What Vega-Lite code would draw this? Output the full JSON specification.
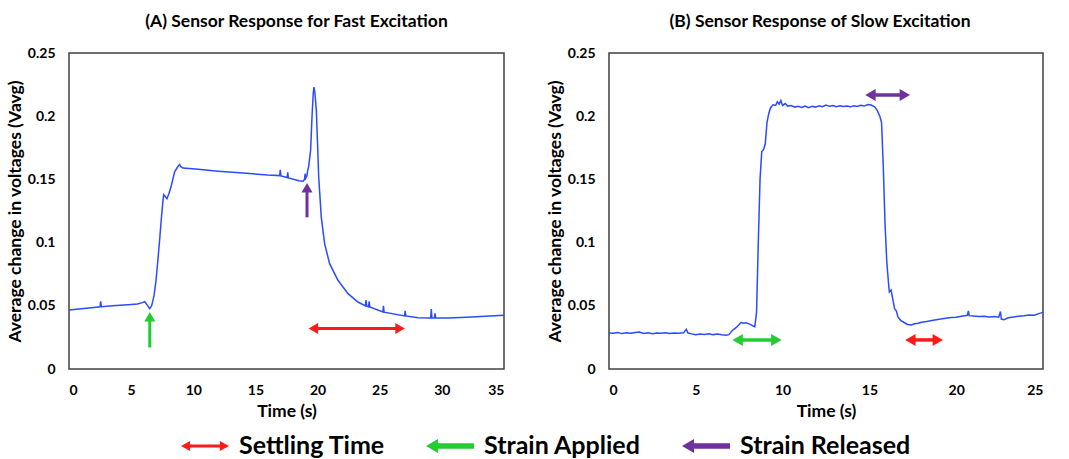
{
  "$schema": "https://vega.github.io/schema/vega-lite/v6.json",
  "background": "white",
  "padding": {"left": 5, "top": 11, "right": 5, "bottom": 0},
  "config": {
    "font": "Lato",
    "view": {"stroke": "#404040", "strokeWidth": 1.5},
    "axis": {"domain": false, "ticks": false, "grid": false, "labelFont": "Lato", "labelFontSize": 14, "labelFontWeight": "bold", "labelColor": "#000", "titleFont": "Lato", "titleFontSize": 17.5, "titleFontWeight": "bold", "titleColor": "#000", "labelPadding": 14},
    "title": {"font": "Lato", "fontSize": 17.5, "fontWeight": "bold", "color": "#000", "offset": 16}
  },
  "datasets": {
    "fast": [
      {"t": 0, "v": 0.0467}, {"t": 1, "v": 0.0477}, {"t": 2, "v": 0.0487}, {"t": 2.5, "v": 0.0492}, {"t": 2.55, "v": 0.0535}, {"t": 2.6, "v": 0.0493},
      {"t": 3.5, "v": 0.05}, {"t": 4.75, "v": 0.0509}, {"t": 5.5, "v": 0.0515}, {"t": 5.9, "v": 0.0525}, {"t": 6.1, "v": 0.0532}, {"t": 6.3, "v": 0.0505},
      {"t": 6.49, "v": 0.0477}, {"t": 6.65, "v": 0.05}, {"t": 6.84, "v": 0.058}, {"t": 7.0, "v": 0.07}, {"t": 7.16, "v": 0.087}, {"t": 7.3, "v": 0.103},
      {"t": 7.43, "v": 0.119}, {"t": 7.55, "v": 0.132}, {"t": 7.62, "v": 0.138}, {"t": 7.75, "v": 0.1365}, {"t": 7.88, "v": 0.1347}, {"t": 8.05, "v": 0.139},
      {"t": 8.23, "v": 0.145}, {"t": 8.5, "v": 0.156}, {"t": 8.75, "v": 0.16}, {"t": 8.9, "v": 0.1617}, {"t": 9.0, "v": 0.16}, {"t": 9.17, "v": 0.159},
      {"t": 10.4, "v": 0.158}, {"t": 12, "v": 0.1565}, {"t": 14, "v": 0.155}, {"t": 16, "v": 0.1535}, {"t": 16.95, "v": 0.153}, {"t": 17.0, "v": 0.1575},
      {"t": 17.05, "v": 0.1528}, {"t": 17.55, "v": 0.1515}, {"t": 17.6, "v": 0.1555}, {"t": 17.65, "v": 0.1512}, {"t": 18.5, "v": 0.149}, {"t": 18.83, "v": 0.1485},
      {"t": 18.95, "v": 0.15}, {"t": 19.0, "v": 0.1545}, {"t": 19.05, "v": 0.151}, {"t": 19.15, "v": 0.153}, {"t": 19.2, "v": 0.157}, {"t": 19.28, "v": 0.16},
      {"t": 19.44, "v": 0.173}, {"t": 19.55, "v": 0.199}, {"t": 19.65, "v": 0.218}, {"t": 19.71, "v": 0.2231}, {"t": 19.78, "v": 0.219}, {"t": 19.9, "v": 0.2046},
      {"t": 20.0, "v": 0.178}, {"t": 20.09, "v": 0.152}, {"t": 20.3, "v": 0.12}, {"t": 20.57, "v": 0.099}, {"t": 20.97, "v": 0.0833}, {"t": 21.64, "v": 0.0702},
      {"t": 22.45, "v": 0.0596}, {"t": 23.25, "v": 0.053}, {"t": 23.85, "v": 0.05}, {"t": 23.9, "v": 0.0545}, {"t": 23.95, "v": 0.0498}, {"t": 24.1, "v": 0.0492},
      {"t": 24.15, "v": 0.0535}, {"t": 24.2, "v": 0.049}, {"t": 25.26, "v": 0.0451}, {"t": 25.3, "v": 0.05}, {"t": 25.35, "v": 0.045}, {"t": 27.0, "v": 0.042},
      {"t": 27.05, "v": 0.046}, {"t": 27.1, "v": 0.042}, {"t": 28.08, "v": 0.0406}, {"t": 29.1, "v": 0.0403}, {"t": 29.15, "v": 0.0475}, {"t": 29.2, "v": 0.0403},
      {"t": 29.4, "v": 0.0404}, {"t": 29.45, "v": 0.044}, {"t": 29.5, "v": 0.0404}, {"t": 30.5, "v": 0.0404}, {"t": 32, "v": 0.041}, {"t": 33.5, "v": 0.0418}, {"t": 35, "v": 0.0425}
    ],
    "slow": [
      {"t": 0, "v": 0.0285}, {"t": 0.25, "v": 0.0282}, {"t": 0.5, "v": 0.0288}, {"t": 0.75, "v": 0.028}, {"t": 1.0, "v": 0.0286}, {"t": 1.25, "v": 0.0283},
      {"t": 1.5, "v": 0.0289}, {"t": 1.75, "v": 0.0292}, {"t": 2.0, "v": 0.0281}, {"t": 2.25, "v": 0.0286}, {"t": 2.5, "v": 0.0279}, {"t": 2.75, "v": 0.0284},
      {"t": 3.0, "v": 0.0282}, {"t": 3.25, "v": 0.0287}, {"t": 3.5, "v": 0.028}, {"t": 3.75, "v": 0.0285}, {"t": 4.0, "v": 0.0283}, {"t": 4.3, "v": 0.0286},
      {"t": 4.45, "v": 0.0315}, {"t": 4.55, "v": 0.0284}, {"t": 4.75, "v": 0.0278}, {"t": 5.0, "v": 0.0271}, {"t": 5.25, "v": 0.0276}, {"t": 5.5, "v": 0.0273},
      {"t": 5.75, "v": 0.0278}, {"t": 6.0, "v": 0.0272}, {"t": 6.25, "v": 0.0276}, {"t": 6.5, "v": 0.0271}, {"t": 6.75, "v": 0.0268}, {"t": 6.9, "v": 0.0272},
      {"t": 7.1, "v": 0.0305}, {"t": 7.3, "v": 0.0325}, {"t": 7.5, "v": 0.0352}, {"t": 7.6, "v": 0.0368}, {"t": 7.75, "v": 0.0362}, {"t": 7.9, "v": 0.0365},
      {"t": 8.1, "v": 0.0355}, {"t": 8.3, "v": 0.034}, {"t": 8.4, "v": 0.0335}, {"t": 8.5, "v": 0.045}, {"t": 8.6, "v": 0.1}, {"t": 8.7, "v": 0.15},
      {"t": 8.8, "v": 0.172}, {"t": 8.9, "v": 0.1735}, {"t": 9.0, "v": 0.178}, {"t": 9.1, "v": 0.195}, {"t": 9.2, "v": 0.202}, {"t": 9.3, "v": 0.2065},
      {"t": 9.45, "v": 0.209}, {"t": 9.6, "v": 0.2085}, {"t": 9.7, "v": 0.2115}, {"t": 9.8, "v": 0.2095}, {"t": 9.9, "v": 0.2125}, {"t": 10.0, "v": 0.2085},
      {"t": 10.15, "v": 0.21}, {"t": 10.3, "v": 0.208}, {"t": 10.5, "v": 0.2085}, {"t": 10.7, "v": 0.2072}, {"t": 10.9, "v": 0.2078}, {"t": 11.1, "v": 0.207},
      {"t": 11.3, "v": 0.208}, {"t": 11.5, "v": 0.2068}, {"t": 11.7, "v": 0.2078}, {"t": 11.9, "v": 0.2072}, {"t": 12.1, "v": 0.2082}, {"t": 12.3, "v": 0.2075},
      {"t": 12.5, "v": 0.2088}, {"t": 12.7, "v": 0.2078}, {"t": 12.9, "v": 0.2085}, {"t": 13.1, "v": 0.2075}, {"t": 13.3, "v": 0.2082}, {"t": 13.5, "v": 0.2076},
      {"t": 13.7, "v": 0.208}, {"t": 13.9, "v": 0.2074}, {"t": 14.1, "v": 0.2082}, {"t": 14.3, "v": 0.2077}, {"t": 14.5, "v": 0.2086}, {"t": 14.7, "v": 0.208},
      {"t": 14.9, "v": 0.2092}, {"t": 15.1, "v": 0.2088}, {"t": 15.3, "v": 0.2075}, {"t": 15.45, "v": 0.2046}, {"t": 15.6, "v": 0.2}, {"t": 15.7, "v": 0.195},
      {"t": 15.8, "v": 0.16}, {"t": 15.9, "v": 0.115}, {"t": 16.0, "v": 0.085}, {"t": 16.1, "v": 0.068}, {"t": 16.15, "v": 0.061}, {"t": 16.25, "v": 0.0625},
      {"t": 16.35, "v": 0.055}, {"t": 16.45, "v": 0.0477}, {"t": 16.55, "v": 0.046}, {"t": 16.65, "v": 0.041}, {"t": 16.8, "v": 0.0385}, {"t": 17.0, "v": 0.0368},
      {"t": 17.2, "v": 0.0352}, {"t": 17.4, "v": 0.0348}, {"t": 17.6, "v": 0.0358}, {"t": 17.8, "v": 0.0362}, {"t": 18.0, "v": 0.037}, {"t": 18.3, "v": 0.0375},
      {"t": 18.6, "v": 0.0383}, {"t": 18.85, "v": 0.039}, {"t": 19.1, "v": 0.0395}, {"t": 19.4, "v": 0.0402}, {"t": 19.7, "v": 0.0408}, {"t": 20.0, "v": 0.041},
      {"t": 20.3, "v": 0.0418}, {"t": 20.65, "v": 0.0425}, {"t": 20.7, "v": 0.046}, {"t": 20.75, "v": 0.0422}, {"t": 21.0, "v": 0.042}, {"t": 21.3, "v": 0.0415},
      {"t": 21.6, "v": 0.0418}, {"t": 21.9, "v": 0.0412}, {"t": 22.2, "v": 0.0415}, {"t": 22.45, "v": 0.041}, {"t": 22.55, "v": 0.0455}, {"t": 22.6, "v": 0.0395},
      {"t": 22.75, "v": 0.039}, {"t": 23.0, "v": 0.0405}, {"t": 23.3, "v": 0.0412}, {"t": 23.6, "v": 0.0418}, {"t": 23.9, "v": 0.0422}, {"t": 24.2, "v": 0.0428},
      {"t": 24.5, "v": 0.0425}, {"t": 24.75, "v": 0.0438}, {"t": 25, "v": 0.0448}
    ],
    "shaftsA": [
      {"type": "Strain Applied", "x": 6.5, "x2": 6.5, "y": 0.017, "y2": 0.041},
      {"type": "Strain Released", "x": 19.15, "x2": 19.15, "y": 0.12, "y2": 0.1434},
      {"type": "Settling Time", "x": 19.66, "x2": 26.64, "y": 0.032, "y2": 0.032}
    ],
    "headsA": [
      {"type": "Strain Applied", "dir": "up", "x": 6.5, "y": 0.0413},
      {"type": "Strain Released", "dir": "up", "x": 19.15, "y": 0.1434},
      {"type": "Settling Time", "dir": "left", "x": 19.66, "y": 0.032},
      {"type": "Settling Time", "dir": "right", "x": 26.64, "y": 0.032}
    ],
    "shaftsB": [
      {"type": "Strain Released", "x": 15.06, "x2": 17.04, "y": 0.2168, "y2": 0.2168},
      {"type": "Strain Applied", "x": 7.41, "x2": 9.64, "y": 0.023, "y2": 0.023},
      {"type": "Settling Time", "x": 17.36, "x2": 18.94, "y": 0.023, "y2": 0.023}
    ],
    "headsB": [
      {"type": "Strain Released", "dir": "left", "x": 15.06, "y": 0.2168},
      {"type": "Strain Released", "dir": "right", "x": 17.04, "y": 0.2168},
      {"type": "Strain Applied", "dir": "left", "x": 7.41, "y": 0.023},
      {"type": "Strain Applied", "dir": "right", "x": 9.64, "y": 0.023},
      {"type": "Settling Time", "dir": "left", "x": 17.36, "y": 0.023},
      {"type": "Settling Time", "dir": "right", "x": 18.94, "y": 0.023}
    ],
    "legendItems": [
      {"type": "Settling Time"}, {"type": "Strain Applied"}, {"type": "Strain Released"}
    ]
  },
  "spacing": 37,
  "resolve": {"scale": {"color": "shared", "shape": "shared"}, "legend": {"color": "shared", "shape": "shared"}},
  "hconcat": [
    {
      "width": 435,
      "height": 316,
      "title": {"text": "(A) Sensor Response for Fast Excitation", "dx": 10},
      "layer": [
        {
          "data": {"name": "legendItems"},
          "mark": {"type": "point", "filled": true, "opacity": 0},
          "encoding": {
            "color": {"field": "type", "type": "nominal", "scale": {"domain": ["Settling Time", "Strain Applied", "Strain Released"], "range": ["#ff1a1a", "#22cc33", "#7030a0"]},
              "legend": {"title": null, "orient": "none", "legendX": 112, "legendY": 369, "direction": "horizontal", "labelFont": "Lato", "labelFontSize": 25, "labelFontWeight": "bold", "labelColor": "#000", "labelLimit": 400, "symbolSize": 2304, "symbolStrokeWidth": 0, "symbolOpacity": 1, "columnPadding": 41, "labelOffset": 10}},
            "shape": {"field": "type", "type": "nominal", "scale": {"domain": ["Settling Time", "Strain Applied", "Strain Released"], "range": ["M-1,0L-0.62,-0.21L-0.62,-0.06L0.62,-0.06L0.62,-0.21L1,0L0.62,0.21L0.62,0.06L-0.62,0.06L-0.62,0.21Z", "M-1,0L-0.5,-0.29L-0.5,-0.11L1,-0.11L1,0.11L-0.5,0.11L-0.5,0.29Z", "M-1,0L-0.5,-0.29L-0.5,-0.11L1,-0.11L1,0.11L-0.5,0.11L-0.5,0.29Z"]},
              "legend": {"title": null, "orient": "none", "legendX": 112, "legendY": 369, "direction": "horizontal", "labelFont": "Lato", "labelFontSize": 25, "labelFontWeight": "bold", "labelColor": "#000", "labelLimit": 400, "symbolSize": 2304, "symbolStrokeWidth": 0, "symbolOpacity": 1, "columnPadding": 41, "labelOffset": 10}}
          }
        },
        {
          "data": {"name": "fast"},
          "mark": {"type": "line", "color": "#2a4bff", "strokeWidth": 1.5},
          "encoding": {
            "x": {"field": "t", "type": "quantitative", "scale": {"domain": [0, 35], "nice": false}, "axis": {"values": [0, 5, 10, 15, 20, 25, 30, 35], "title": "Time (s)", "titlePadding": 5}},
            "y": {"field": "v", "type": "quantitative", "scale": {"domain": [0, 0.25], "nice": false}, "axis": {"values": [0, 0.05, 0.1, 0.15, 0.2, 0.25], "format": "~g", "title": "Average change  in voltages (Vavg)", "titlePadding": 3}}
          }
        },
        {
          "data": {"name": "shaftsA"},
          "mark": {"type": "rule", "strokeWidth": 3},
          "encoding": {
            "x": {"field": "x", "type": "quantitative"}, "x2": {"field": "x2"},
            "y": {"field": "y", "type": "quantitative"}, "y2": {"field": "y2"},
            "stroke": {"field": "type", "type": "nominal", "scale": {"domain": ["Settling Time", "Strain Applied", "Strain Released"], "range": ["#ff1a1a", "#22cc33", "#7030a0"]}, "legend": null}
          }
        },
        {
          "data": {"name": "headsA"},
          "transform": [{"filter": {"field": "dir", "equal": "up"}}],
          "mark": {"type": "point", "shape": "triangle-up", "filled": true, "opacity": 1, "size": 121},
          "encoding": {
            "x": {"field": "x", "type": "quantitative"}, "y": {"field": "y", "type": "quantitative"},
            "fill": {"field": "type", "type": "nominal", "scale": {"domain": ["Settling Time", "Strain Applied", "Strain Released"], "range": ["#ff1a1a", "#22cc33", "#7030a0"]}, "legend": null}
          }
        },
        {
          "data": {"name": "headsA"},
          "transform": [{"filter": {"field": "dir", "equal": "left"}}],
          "mark": {"type": "point", "shape": "triangle-left", "filled": true, "opacity": 1, "size": 121},
          "encoding": {
            "x": {"field": "x", "type": "quantitative"}, "y": {"field": "y", "type": "quantitative"},
            "fill": {"field": "type", "type": "nominal", "scale": {"domain": ["Settling Time", "Strain Applied", "Strain Released"], "range": ["#ff1a1a", "#22cc33", "#7030a0"]}, "legend": null}
          }
        },
        {
          "data": {"name": "headsA"},
          "transform": [{"filter": {"field": "dir", "equal": "right"}}],
          "mark": {"type": "point", "shape": "triangle-right", "filled": true, "opacity": 1, "size": 121},
          "encoding": {
            "x": {"field": "x", "type": "quantitative"}, "y": {"field": "y", "type": "quantitative"},
            "fill": {"field": "type", "type": "nominal", "scale": {"domain": ["Settling Time", "Strain Applied", "Strain Released"], "range": ["#ff1a1a", "#22cc33", "#7030a0"]}, "legend": null}
          }
        }
      ]
    },
    {
      "width": 434,
      "height": 316,
      "title": {"text": "(B) Sensor Response of Slow Excitation", "dx": -6},
      "layer": [
        {
          "data": {"name": "slow"},
          "mark": {"type": "line", "color": "#2a4bff", "strokeWidth": 1.5},
          "encoding": {
            "x": {"field": "t", "type": "quantitative", "scale": {"domain": [0, 25], "nice": false}, "axis": {"values": [0, 5, 10, 15, 20, 25], "title": "Time (s)", "titlePadding": 5}},
            "y": {"field": "v", "type": "quantitative", "scale": {"domain": [0, 0.25], "nice": false}, "axis": {"values": [0, 0.05, 0.1, 0.15, 0.2, 0.25], "format": "~g", "title": "Average change  in voltages (Vavg)", "titlePadding": 3}}
          }
        },
        {
          "data": {"name": "shaftsB"},
          "mark": {"type": "rule", "strokeWidth": 3.5},
          "encoding": {
            "x": {"field": "x", "type": "quantitative"}, "x2": {"field": "x2"},
            "y": {"field": "y", "type": "quantitative"}, "y2": {"field": "y2"},
            "stroke": {"field": "type", "type": "nominal", "scale": {"domain": ["Settling Time", "Strain Applied", "Strain Released"], "range": ["#ff1a1a", "#22cc33", "#7030a0"]}, "legend": null}
          }
        },
        {
          "data": {"name": "headsB"},
          "transform": [{"filter": {"field": "dir", "equal": "left"}}],
          "mark": {"type": "point", "shape": "triangle-left", "filled": true, "opacity": 1, "size": 144},
          "encoding": {
            "x": {"field": "x", "type": "quantitative"}, "y": {"field": "y", "type": "quantitative"},
            "fill": {"field": "type", "type": "nominal", "scale": {"domain": ["Settling Time", "Strain Applied", "Strain Released"], "range": ["#ff1a1a", "#22cc33", "#7030a0"]}, "legend": null}
          }
        },
        {
          "data": {"name": "headsB"},
          "transform": [{"filter": {"field": "dir", "equal": "right"}}],
          "mark": {"type": "point", "shape": "triangle-right", "filled": true, "opacity": 1, "size": 144},
          "encoding": {
            "x": {"field": "x", "type": "quantitative"}, "y": {"field": "y", "type": "quantitative"},
            "fill": {"field": "type", "type": "nominal", "scale": {"domain": ["Settling Time", "Strain Applied", "Strain Released"], "range": ["#ff1a1a", "#22cc33", "#7030a0"]}, "legend": null}
          }
        }
      ]
    }
  ]
}
